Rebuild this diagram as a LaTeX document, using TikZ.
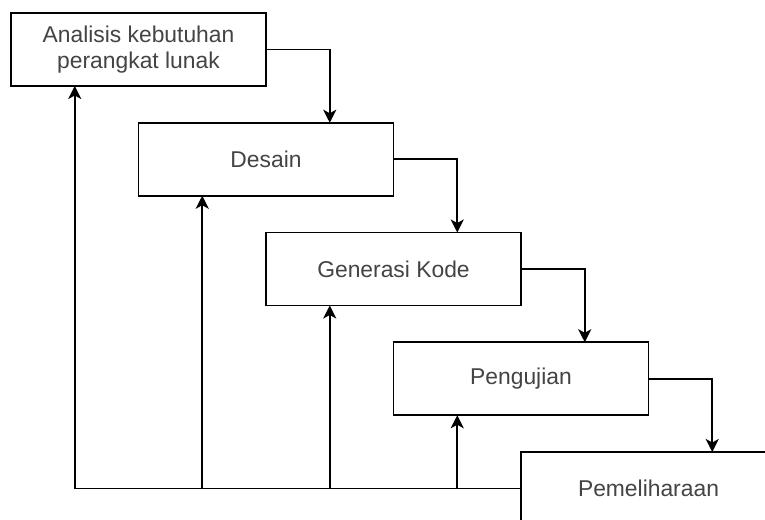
\documentclass[tikz,border=0pt]{standalone}
\usepackage{fontspec}
\setmainfont{Liberation Sans}
\usepackage{tikz}
\usetikzlibrary{arrows.meta,positioning,calc}
\definecolor{TextGray}{RGB}{68,68,68}

\begin{document}
\begin{tikzpicture}[
  phase/.style={
    draw,
    fill=white,
    minimum width=5.1cm,
    minimum height=1.46cm,
    align=center,
    line width=1.1pt,
    text=TextGray,
    font=\fontsize{13}{14.4}\selectfont,
    inner sep=0pt,
    outer sep=0pt
  },
  flow/.style={-{Stealth[length=2.6mm,width=2.6mm,inset=0.7mm]}, line width=1.1pt},
  back/.style={-{Stealth[length=2.6mm,width=2.6mm,inset=0.7mm]}, line width=1.1pt}
]
\useasboundingbox (0,0) rectangle (15.3,-10.4);
\def\Gap{0.735cm}
\node[phase] (analisis) at (2.77,-0.99) {Analisis kebutuhan\\perangkat lunak};
\node[phase, below=\Gap of analisis.south east] (desain) {Desain};
\node[phase, below=\Gap of desain.south east] (kode) {Generasi Kode};
\node[phase, below=\Gap of kode.south east] (uji) {Pengujian};
\node[phase, below=\Gap of uji.south east] (pelihara) {Pemeliharaan};

% entry and exit points on the boxes
\coordinate (inDesain) at ($(desain.north west)!0.75!(desain.north east)$);
\coordinate (inKode) at ($(kode.north west)!0.75!(kode.north east)$);
\coordinate (inUji) at ($(uji.north west)!0.75!(uji.north east)$);
\coordinate (inPelihara) at ($(pelihara.north west)!0.75!(pelihara.north east)$);
\coordinate (upAnalisis) at ($(analisis.south west)!0.25!(analisis.south east)$);
\coordinate (upDesain) at ($(desain.south west)!0.25!(desain.south east)$);
\coordinate (upKode) at ($(kode.south west)!0.25!(kode.south east)$);
\coordinate (upUji) at ($(uji.south west)!0.25!(uji.south east)$);

\draw[flow] (analisis.east) -| (inDesain);
\draw[flow] (desain.east) -| (inKode);
\draw[flow] (kode.east) -| (inUji);
\draw[flow] (uji.east) -| (inPelihara);

\draw[back] (pelihara.west) -| (upAnalisis);
\foreach \p in {upDesain,upKode,upUji}
  \draw[back] (pelihara.west -| \p) -- (\p);
\end{tikzpicture}
\end{document}
